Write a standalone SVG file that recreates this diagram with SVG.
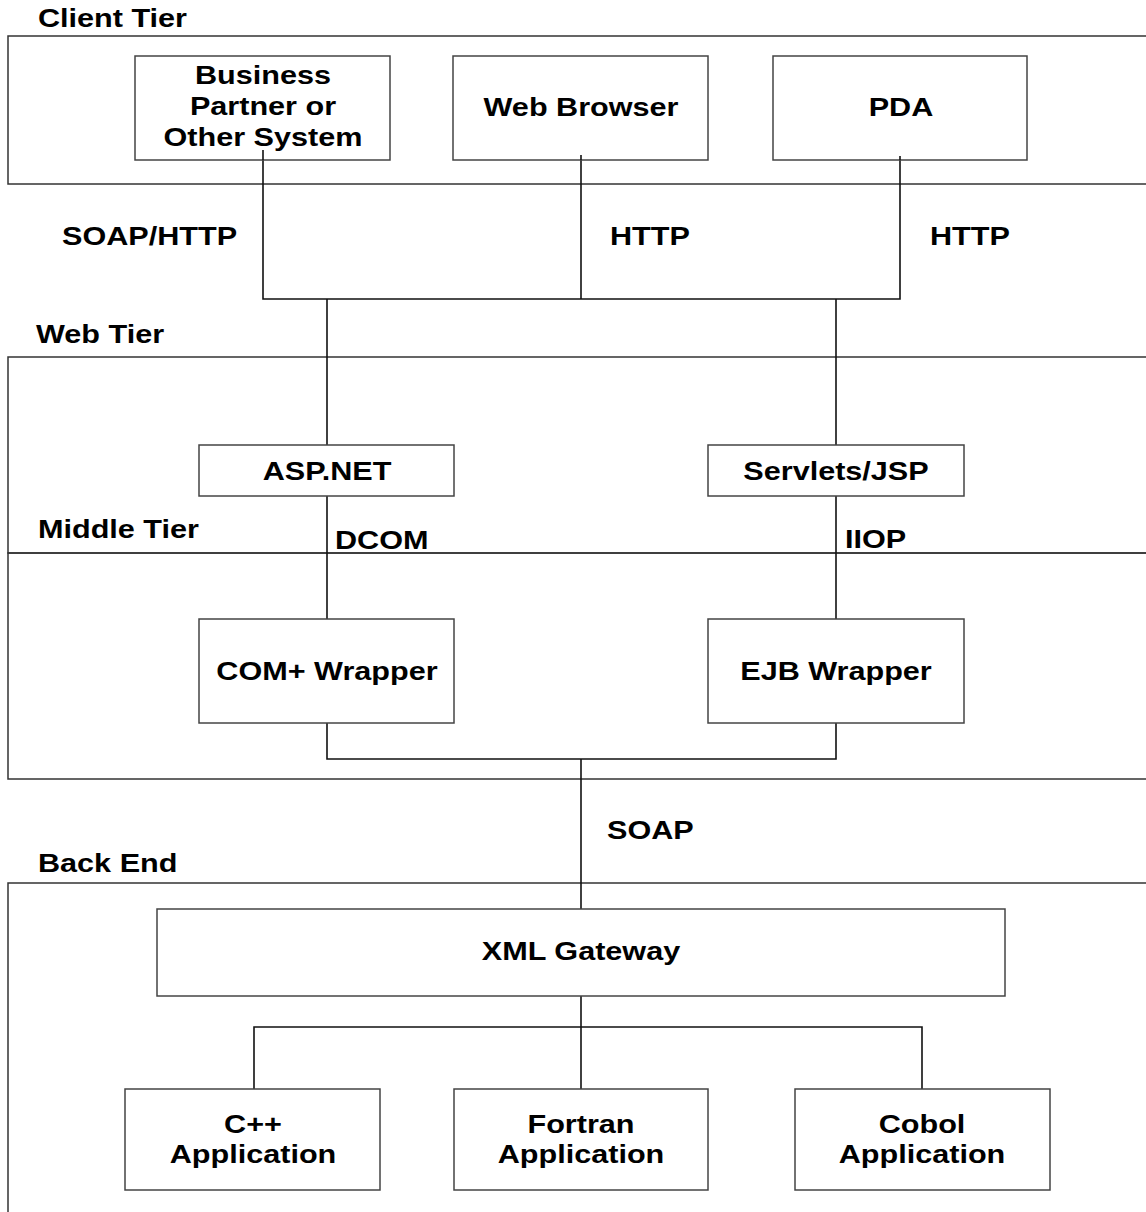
<svg xmlns="http://www.w3.org/2000/svg" width="1146" height="1212" viewBox="0 0 1146 1212">
<style>
  .tier { fill: none; stroke: #333; stroke-width: 1.5; }
  .box { fill: #fff; stroke: #444; stroke-width: 1.5; }
  .conn { fill: none; stroke: #111; stroke-width: 1.6; }
  text { font-family: "Liberation Sans", Arial, sans-serif; font-weight: bold; font-size: 25.5px; fill: #000; }
  .c { text-anchor: middle; }
</style>
<rect width="1146" height="1212" fill="#fff"/>

<g id="tiers">
  <rect class="tier" x="8" y="36" width="1200" height="148"/>
  <rect class="tier" x="8" y="357" width="1200" height="196"/>
  <rect class="tier" x="8" y="553" width="1200" height="226"/>
  <rect class="tier" x="8" y="883" width="1200" height="400"/>
  <text transform="matrix(1.2 0 0 1 38 27)">Client Tier</text>
  <text transform="matrix(1.2 0 0 1 36 343)">Web Tier</text>
  <text transform="matrix(1.2 0 0 1 38 538)">Middle Tier</text>
  <text transform="matrix(1.2 0 0 1 38 872)">Back End</text>
</g>

<g id="connectors">
  <polyline class="conn" points="263,150 263,299 900,299 900,156"/>
  <line class="conn" x1="581" y1="155" x2="581" y2="299"/>
  <line class="conn" x1="327" y1="299" x2="327" y2="445"/>
  <line class="conn" x1="836" y1="299" x2="836" y2="445"/>
  <line class="conn" x1="327" y1="496" x2="327" y2="619"/>
  <line class="conn" x1="836" y1="496" x2="836" y2="619"/>
  <polyline class="conn" points="327,723 327,759 836,759 836,723"/>
  <line class="conn" x1="581" y1="759" x2="581" y2="909"/>
  <line class="conn" x1="581" y1="996" x2="581" y2="1089"/>
  <polyline class="conn" points="254,1089 254,1027 922,1027 922,1089"/>
  <text transform="matrix(1.2 0 0 1 62 245)">SOAP/HTTP</text>
  <text transform="matrix(1.2 0 0 1 610 245)">HTTP</text>
  <text transform="matrix(1.2 0 0 1 930 245)">HTTP</text>
  <text transform="matrix(1.2 0 0 1 335 549)">DCOM</text>
  <text transform="matrix(1.2 0 0 1 845 548)">IIOP</text>
  <text transform="matrix(1.2 0 0 1 607 839)">SOAP</text>
</g>

<g id="business-partner">
  <rect class="box" x="135" y="56" width="255" height="104"/>
  <text class="c" transform="matrix(1.2 0 0 1 263 84)">Business</text>
  <text class="c" transform="matrix(1.2 0 0 1 263 115)">Partner or</text>
  <text class="c" transform="matrix(1.2 0 0 1 263 146)">Other System</text>
</g>
<line class="conn" x1="263" y1="150" x2="263" y2="160"/>
<g id="web-browser">
  <rect class="box" x="453" y="56" width="255" height="104"/>
  <text class="c" transform="matrix(1.2 0 0 1 581 116)">Web Browser</text>
</g>
<g id="pda">
  <rect class="box" x="773" y="56" width="254" height="104"/>
  <text class="c" transform="matrix(1.2 0 0 1 901 116)">PDA</text>
</g>
<line class="conn" x1="581" y1="155" x2="581" y2="160"/>
<line class="conn" x1="900" y1="156" x2="900" y2="160"/>

<g id="aspnet">
  <rect class="box" x="199" y="445" width="255" height="51"/>
  <text class="c" transform="matrix(1.2 0 0 1 327 480)">ASP.NET</text>
</g>
<g id="servlets-jsp">
  <rect class="box" x="708" y="445" width="256" height="51"/>
  <text class="c" transform="matrix(1.2 0 0 1 836 480)">Servlets/JSP</text>
</g>
<g id="com-wrapper">
  <rect class="box" x="199" y="619" width="255" height="104"/>
  <text class="c" transform="matrix(1.2 0 0 1 327 680)">COM+ Wrapper</text>
</g>
<g id="ejb-wrapper">
  <rect class="box" x="708" y="619" width="256" height="104"/>
  <text class="c" transform="matrix(1.2 0 0 1 836 680)">EJB Wrapper</text>
</g>
<g id="xml-gateway">
  <rect class="box" x="157" y="909" width="848" height="87"/>
  <text class="c" transform="matrix(1.2 0 0 1 581 960)">XML Gateway</text>
</g>
<g id="cpp-app">
  <rect class="box" x="125" y="1089" width="255" height="101"/>
  <text class="c" transform="matrix(1.2 0 0 1 253 1133)">C++</text>
  <text class="c" transform="matrix(1.2 0 0 1 253 1163)">Application</text>
</g>
<g id="fortran-app">
  <rect class="box" x="454" y="1089" width="254" height="101"/>
  <text class="c" transform="matrix(1.2 0 0 1 581 1133)">Fortran</text>
  <text class="c" transform="matrix(1.2 0 0 1 581 1163)">Application</text>
</g>
<g id="cobol-app">
  <rect class="box" x="795" y="1089" width="255" height="101"/>
  <text class="c" transform="matrix(1.2 0 0 1 922 1133)">Cobol</text>
  <text class="c" transform="matrix(1.2 0 0 1 922 1163)">Application</text>
</g>
</svg>
